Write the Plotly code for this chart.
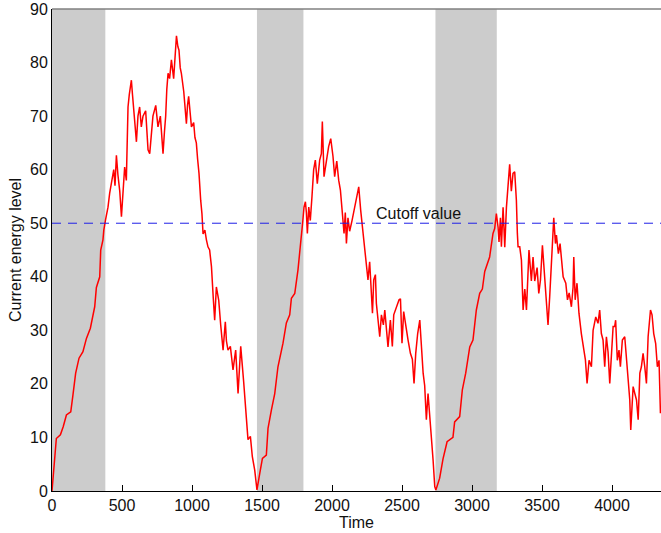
import plotly.graph_objects as go

# Energy trace (time, level)
time = [
    0, 31, 60, 80, 103, 134, 150, 169, 193, 221, 246, 274, 305, 317, 341, 348, 364, 370, 382,
    400, 412, 425, 441, 450, 460, 471, 484, 496, 505, 519, 531, 536, 543, 552, 567, 575, 586, 594,
    603, 614, 626, 638, 650, 669, 677, 686, 698, 710, 721, 741, 757, 774, 783, 793, 803, 812, 820,
    829, 840, 853, 869, 879, 889, 899, 907, 916, 924, 941, 950, 960, 968, 976, 996, 1012, 1021,
    1031, 1040, 1050, 1062, 1071, 1079, 1092, 1103, 1114, 1126, 1139, 1152, 1162, 1174, 1191,
    1205, 1222, 1238, 1246, 1257, 1274, 1293, 1302, 1312, 1329, 1348, 1369, 1389, 1400, 1417,
    1431, 1448, 1464,
    1484, 1503, 1531, 1543, 1567, 1591, 1614, 1650, 1674, 1698, 1710, 1734, 1757, 1781, 1790,
    1800, 1810, 1817, 1824, 1834, 1845, 1857, 1869, 1881, 1895, 1912, 1924, 1931, 1943, 1960,
    1976, 1991, 2007, 2019, 2034, 2048, 2060, 2072, 2086, 2095, 2103, 2114, 2126, 2143, 2157,
    2174, 2191, 2205, 2217, 2234, 2246, 2257, 2269, 2280, 2289, 2298, 2310, 2317, 2329, 2341,
    2353, 2367, 2377, 2389, 2400, 2417, 2431, 2441, 2460, 2479, 2489, 2500, 2512, 2527, 2543,
    2560, 2574, 2586, 2598, 2612, 2627, 2636, 2651, 2662, 2674, 2686, 2698, 2710, 2722, 2734,
    2742,
    2769, 2793, 2822, 2845, 2864, 2876, 2912, 2931, 2955, 2984, 3007, 3031, 3055, 3074, 3091,
    3126, 3146, 3150, 3162, 3174,
    3186, 3193, 3203, 3210, 3222, 3234, 3246, 3257, 3269, 3281, 3293, 3305, 3317, 3324, 3329,
    3341, 3353, 3365, 3377, 3389, 3407, 3424, 3436, 3448, 3465, 3477, 3489, 3503, 3515, 3527,
    3543, 3555, 3567, 3584, 3596, 3603, 3617, 3629, 3651, 3670, 3682, 3694, 3710, 3722, 3727,
    3737, 3750, 3764, 3781, 3793, 3810, 3822, 3836, 3853, 3865, 3884, 3900, 3912, 3924, 3936,
    3948, 3960, 3972, 3984, 3995, 4008, 4019, 4026, 4038, 4050, 4060, 4074, 4091, 4103, 4115,
    4127, 4134, 4151, 4163, 4175, 4187, 4199, 4210, 4222, 4234, 4246, 4258, 4275, 4286, 4298,
    4312, 4324, 4336, 4346,
]
energy = [
    0, 9.8, 10.5, 12, 14.2, 14.8, 18, 22, 24.8, 26, 28.5, 30.4, 34.4, 38, 40, 45, 46.9, 48.7, 50.6,
    53, 55.6, 58, 60, 57, 62.7, 59, 56, 51.2, 55, 60.5, 58, 63, 71.7, 74, 76.7, 74, 71, 68,
    65.2, 70, 71.7, 68, 70, 71, 68, 63.7, 63, 67, 70, 72, 68, 70, 66, 63, 67, 70, 75,
    78, 77, 80.5, 77, 82, 85, 83, 82.3, 79, 78, 74.6, 71, 68.6, 72, 73.7, 68, 68.8, 66,
    65, 62, 59.3, 54.3, 51.8, 48, 48.7, 46.9, 45.6, 45, 41.9, 36, 31.9, 38.1, 35.6,
    31, 26.3, 31.6, 28, 26.3, 27, 22.6, 25, 26.3, 18.2, 27, 20.4, 12, 9.6, 10.2,
    6.4, 3.9, 0.2,
    3.3, 6.1, 6.7, 11.7, 15.1, 18.2, 23.2, 27.6, 31.4, 32.9, 36, 36.9, 41.3, 46.9, 50,
    53, 54, 52, 48.1, 53, 50.5, 55, 60, 61.8, 57.4, 61.8, 63, 69, 58.7, 61.6,
    64.3, 65.8, 62.5, 58.7, 61.6, 58, 56.2, 52.5, 48.1, 52, 46.2, 51, 48.5, 50.5, 52.5,
    55, 56.8, 52.4, 49.3, 44.4, 42.5, 39.4, 42.8, 38, 33.2, 39.4, 40.4, 35, 31.3, 28.8,
    32.9, 31, 33.8, 29.5, 26.9, 31.9, 27, 32.9, 34.4, 35.7, 35.9, 27.6, 33.5, 30.6, 28.2,
    25.7, 24.6, 20.1, 25.7, 29.4, 31.9, 28.2, 22, 19.7, 13.3, 18.2, 14.4, 10.8, 5.8, 0.8,
    0.2,
    2.4, 6, 9.2, 9.6, 10, 12.9, 13.9, 18.9, 22, 26.9, 28.2, 33.8, 36.9, 37.7, 41,
    43.7, 46.9, 48.1, 49, 51.8,
    49.3, 46.5, 51, 45.6, 53, 45.5, 53, 56.8, 61, 56, 59.3, 59.6, 54.3, 48.1, 45.6,
    45.6, 43.1, 33.8, 37.7, 33.8, 45, 39.2, 43.7, 39.2, 41.7, 36.9, 39.4, 45.9, 41, 36.3,
    31, 36.3, 43.1, 51, 46.2, 47.8, 44.3, 46.2, 40, 38.8, 35.7, 37, 34.4, 38.1, 43.7,
    35.7, 38.8, 33.2, 29.4, 27.5, 24.5, 20.1, 24.4, 23.2, 30, 32.5, 31.3, 33.8, 29.4, 28.2,
    23.2, 28.8, 25.9, 20.1, 24.4, 30.7, 30.7, 31.9, 24.4, 26.3, 23.2, 28.2, 28.8, 24.5, 19.5,
    17, 11.4, 19.5, 18.2, 17, 13.3, 22, 23.2, 25.7, 23.2, 20.1, 28.8, 33.8, 32.9, 29.4,
    27.5, 23.2, 24.4, 14.5,
]

# Shaded intervals (start, end) in time units
shade_start = [0, 1464, 2739]
shade_end = [381, 1796, 3177]

cutoff = 50
cutoff_label = "Cutoff value"
x_title = "Time"
y_title = "Current energy level"
x_ticks = [0, 500, 1000, 1500, 2000, 2500, 3000, 3500, 4000]
y_ticks = [0, 10, 20, 30, 40, 50, 60, 70, 80, 90]
x_max = 4350
y_max = 90

FONT = "Liberation Sans, Arial, Helvetica, sans-serif"

fig = go.Figure()

for s, e in zip(shade_start, shade_end):
    fig.add_shape(type="rect", xref="x", yref="y", x0=s, x1=e, y0=0, y1=y_max,
                  fillcolor="#CCCCCC", line_width=0, layer="below")

fig.add_trace(go.Scatter(x=time, y=energy, mode="lines",
                         line=dict(color="#FF0000", width=1.5),
                         showlegend=False, hoverinfo="skip"))

fig.add_trace(go.Scatter(x=[0, x_max], y=[cutoff, cutoff], mode="lines",
                         line=dict(color="#1F1FE6", width=1, dash="9px,7px"),
                         showlegend=False, hoverinfo="skip"))

fig.add_annotation(x=2298, y=51.9, xref="x", yref="y", text=cutoff_label,
                   showarrow=False, xanchor="left", yanchor="middle",
                   font=dict(family=FONT, size=16, color="#111111"))

fig.add_annotation(x=0.5, y=-42 / 482, xref="paper", yref="paper", text=x_title,
                   showarrow=False, xanchor="center", yanchor="bottom",
                   font=dict(family=FONT, size=16, color="#111111"))
fig.add_annotation(x=-37 / 609, y=0.5, xref="paper", yref="paper", text=y_title,
                   showarrow=False, xanchor="center", yanchor="middle", textangle=-90,
                   font=dict(family=FONT, size=16, color="#111111"))

# top box edge
fig.add_shape(type="line", xref="paper", yref="paper", x0=0, x1=1, y0=1, y1=1,
              line=dict(color="#808080", width=1.5), layer="above")

fig.update_layout(
    width=661, height=533,
    margin=dict(l=52, r=0, t=9, b=42, autoexpand=False),
    paper_bgcolor="white", plot_bgcolor="white",
    font=dict(family=FONT, size=16, color="#111111"),
    xaxis=dict(range=[0, x_max], tickvals=x_ticks, ticks="inside", ticklen=6,
               tickcolor="black", showline=True, linecolor="black", linewidth=1,
               showgrid=False, zeroline=False, automargin=False),
    yaxis=dict(range=[0, y_max], tickvals=y_ticks, ticks="", showline=True,
               linecolor="black", linewidth=1, showgrid=False, zeroline=False,
               automargin=False),
)

fig.write_html("out.html",
               config={"displayModeBar": False, "staticPlot": True},
               post_script="document.body.style.margin='0';document.body.style.overflow='hidden';")
